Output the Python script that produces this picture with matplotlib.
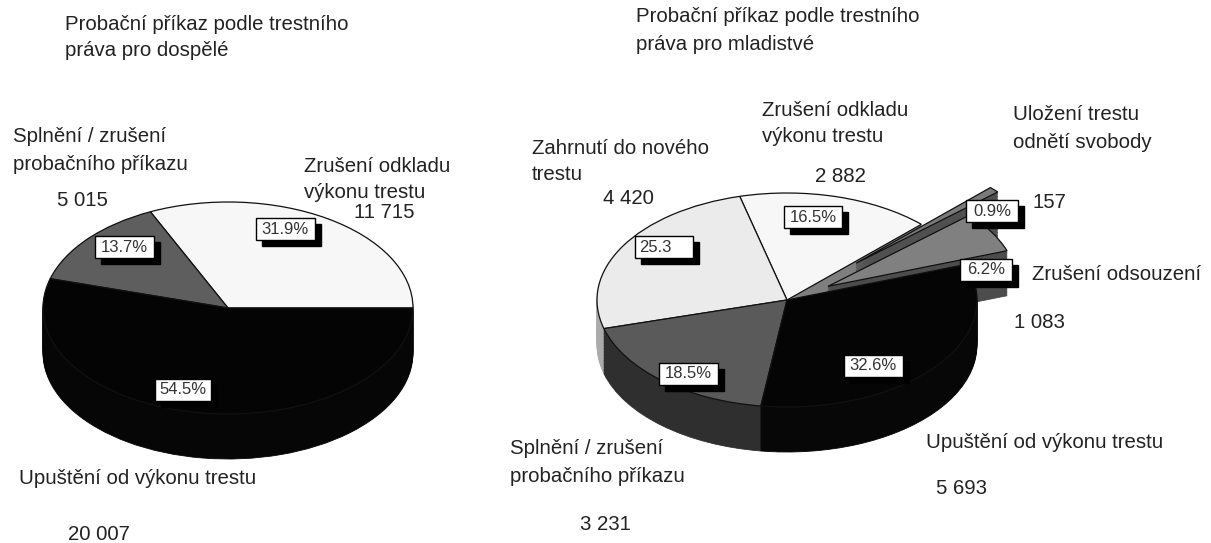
import matplotlib
matplotlib.use("Agg")
import matplotlib.pyplot as plt
from matplotlib.patches import Rectangle

W, H = 1211, 543

# adult pie, counter clockwise from the 3 o'clock position
adult_values = [11715, 5015, 20007]
adult_pct = ["31.9%", "13.7%", "54.5%"]
adult_top = ["#f7f7f7", "#5e5e5e", "#040404"]
adult_side = ["#808080", "#333333", "#060606"]

# juvenile pie, counter clockwise from 45 degrees
youth_values = [2882, 4420, 3231, 5693, 1083, 157]
youth_pct = ["16.5%", "25.3", "18.5%", "32.6%", "6.2%", "0.9%"]
youth_explode = [0, 0, 0, 0, 0.25, 0.5]
youth_top = ["#f7f7f7", "#ebebeb", "#5a5a5a", "#050505", "#808080", "#7a7a7a"]
youth_side = ["#7f7f7f", "#ababab", "#2f2f2f", "#070707", "#4c4c4c", "#505050"]
youth_order = [0, 5, 4, 1, 2, 3]

adult_text = [
    (65, 24, "Probační příkaz podle trestního"),
    (65, 50, "práva pro dospělé"),
    (13, 136, "Splnění / zrušení"),
    (13, 165, "probačního příkazu"),
    (57, 200, "5 015"),
    (304, 166, "Zrušení odkladu"),
    (304, 193, "výkonu trestu"),
    (354, 212, "11 715"),
    (19, 479, "Upuštění od výkonu trestu"),
    (68, 534, "20 007"),
]
youth_text = [
    (636, 17, "Probační příkaz podle trestního"),
    (636, 44, "práva pro mladistvé"),
    (762, 110, "Zrušení odkladu"),
    (762, 137, "výkonu trestu"),
    (815, 176, "2 882"),
    (1013, 115, "Uložení trestu"),
    (1013, 142, "odnětí svobody"),
    (1033, 202, "157"),
    (532, 148, "Zahrnutí do nového"),
    (532, 175, "trestu"),
    (603, 199, "4 420"),
    (1032, 275, "Zrušení odsouzení"),
    (1014, 322, "1 083"),
    (926, 443, "Upuštění od výkonu trestu"),
    (936, 489, "5 693"),
    (510, 449, "Splnění / zrušení"),
    (510, 477, "probačního příkazu"),
    (580, 524, "3 231"),
]

# centre x, centre y, box width
adult_boxes = [(285, 229, 59), (124, 247, 59), (183, 390, 56)]
youth_boxes = [(813, 217, 58), (664, 247, 58), (688, 374, 59), (873, 366, 59),
               (986, 270, 52), (992, 211, 52)]


def draw_pie(fig, cx, cy, rx, ry, depth, values, start, tops, sides, order, explode=None):
    # axes twice as wide as the pie, so exploded slices still fit
    ax = fig.add_axes([(cx - 2 * rx) / W, 1 - (cy + 2 * ry) / H, 4 * rx / W, 4 * ry / H])
    layers = 30
    for k in range(layers + 1):
        offset = -(depth / ry) * (layers - k) / layers
        wedges, _ = ax.pie(values, startangle=start, counterclock=True, explode=explode,
                           center=(0, offset), radius=1)
        for i, w in enumerate(wedges):
            w.set_zorder(order.index(i) + 1 + k / (layers + 1))
            if k == layers:
                w.set_facecolor(tops[i])
                w.set_edgecolor("#111111")
                w.set_linewidth(0.9)
            else:
                w.set_facecolor(sides[i])
                w.set_edgecolor(sides[i])
                w.set_linewidth(0.6)
    ax.set_aspect("auto")
    ax.set_xlim(-2, 2)
    ax.set_ylim(-2, 2)
    ax.patch.set_alpha(0)


def pct_box(ax, x, y, width, s):
    # drop shadow first, white box on top
    h = 22
    ax.add_patch(Rectangle((x - width / 2 + 6, y - h / 2 + 6), width, h, fc="black", ec="black", zorder=5))
    ax.add_patch(Rectangle((x - width / 2, y - h / 2), width, h, fc="white", ec="black", lw=1, zorder=6))
    if s.endswith("%"):
        ax.text(x, y, s, fontsize=12, color="#333333", ha="center", va="center", zorder=7)
    else:
        ax.text(x - width / 2 + 4, y, s, fontsize=12, color="#333333", ha="left", va="center", zorder=7)


plt.rcParams["font.family"] = ["Liberation Sans", "DejaVu Sans"]
fig = plt.figure(figsize=(W / 100, H / 100), dpi=100, facecolor="white")

draw_pie(fig, 228, 308, 185, 106, 45, adult_values, 0, adult_top, adult_side, [0, 1, 2])
draw_pie(fig, 787, 300, 190, 107, 45, youth_values, 45, youth_top, youth_side, youth_order,
         explode=youth_explode)

# overlay in pixel coordinates for all the text
over = fig.add_axes([0, 0, 1, 1])
over.set_xlim(0, W)
over.set_ylim(H, 0)
over.axis("off")

for x, y, s in adult_text + youth_text:
    over.text(x, y, s, fontsize=14.7, color="#222222", ha="left", va="center")
for (x, y, width), s in zip(adult_boxes + youth_boxes, adult_pct + youth_pct):
    pct_box(over, x, y, width, s)

fig.savefig("out.png", dpi=100)
plt.close(fig)
